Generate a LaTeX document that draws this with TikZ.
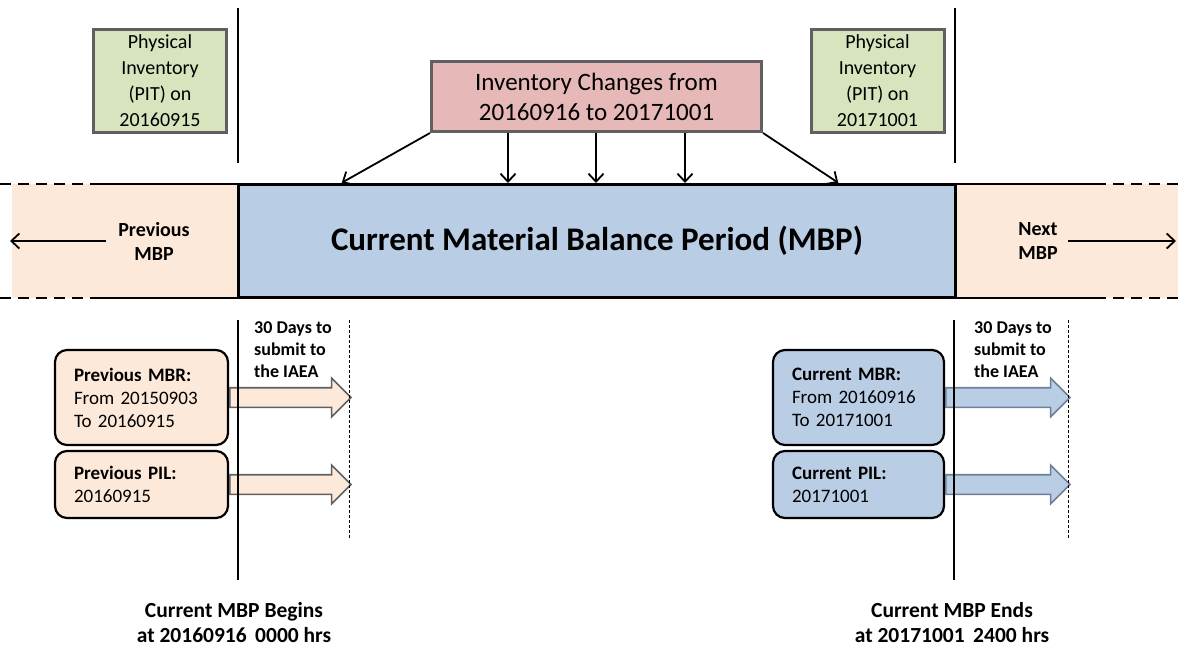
\documentclass[tikz,border=0pt]{standalone}
\usepackage{fontspec}
\setmainfont{Carlito}
\usetikzlibrary{%
  arrows.meta,%
  positioning,%
  shapes.arrows% wg. single arrow
}
\definecolor{pitgreen}{HTML}{D7E4BD}
\definecolor{icred}{HTML}{E6B9B8}
\definecolor{mbpblue}{HTML}{B9CDE5}
\definecolor{mbppeach}{HTML}{FDE9D9}
\definecolor{boxgray}{HTML}{606060}
\definecolor{bluegray}{HTML}{6F7F98}

\begin{document}
\begin{tikzpicture}[
    x=1pt, y=-1pt,
    pit/.style={draw=boxgray, fill=pitgreen, line width=3pt, minimum width=133pt,
      minimum height=103pt, align=center, inner sep=0pt, font=\fontsize{20}{26}\selectfont},
    change/.style={draw=boxgray, fill=icred, line width=3pt, minimum width=330pt,
      minimum height=70pt, align=center, inner sep=0pt, font=\fontsize{25}{30}\selectfont},
    period/.style={draw, fill=mbpblue, line width=3.5pt, minimum width=717pt,
      minimum height=113pt, inner sep=0pt, font=\fontsize{33}{38}\bfseries},
    report/.style={draw, rounded corners=12pt, line width=2.2pt, align=left,
      inner xsep=19pt, inner ysep=0pt, font=\fontsize{19}{23}\selectfont},
    submit/.style={single arrow, single arrow head extend=9.5pt, inner xsep=0pt,
      inner ysep=9pt, line width=1.6pt},
    label/.style={align=center, inner sep=0pt, font=\fontsize{20}{24}\bfseries},
    note/.style={align=left, inner sep=0pt, font=\fontsize{18}{22}\bfseries},
    tip/.style={-{Straight Barb[length=8pt,width=15pt]}, line width=1.8pt},
    timeline/.style={line width=2.2pt},
    band/.style={line width=2.2pt},
    days/.style={line width=0.9pt, dash pattern=on 3pt off 2pt}
  ]
  \useasboundingbox (0,0) rectangle (1178,650);

  % neighbouring periods
  \fill[mbppeach] (12,184) rectangle (238,298);
  \fill[mbppeach] (957,184) rectangle (1178,298);
  \foreach \y in {184,298}{
    \draw[band, dash pattern=on 11pt off 7pt] (0,\y) -- (95,\y);
    \draw[band] (95,\y) -- (238,\y);
    \draw[band] (957,\y) -- (1095,\y);
    \draw[band, dash pattern=on 11pt off 7pt] (1095,\y) -- (1178,\y);}

  % current period
  \node[period] at (597,241) (mbp) {Current Material Balance Period (MBP)};
  \node[label] at (154,241) (prev) {Previous\\MBP};
  \node[label] at (1038,241) (next) {Next\\MBP};
  \coordinate (farleft) at (10,241);
  \coordinate (farright) at (1176,241);
  \draw[tip] ([xshift=-12pt]prev.west) -- (farleft);
  \draw[tip] ([xshift=10pt]next.east) -- (farright);

  % inventories
  \node[pit] at (160,81) (pitold) {Physical\\Inventory\\(PIT) on\\20160915};
  \node[pit] at (877.5,81) (pitnew) {Physical\\Inventory\\(PIT) on\\20171001};
  \node[change] at (596.5,96.5) (ic) {Inventory Changes from\\20160916 to 20171001};

  % inventory changes into the period
  \draw[tip] (ic.south west) -- ([xshift=105pt]mbp.north west);
  \draw[tip] (ic.south east) -- ([xshift=-119pt]mbp.north east);
  \foreach \x in {508,596,685}{
    \coordinate (icx) at (\x,133);
    \coordinate (mbpx) at (\x,183);
    \draw[tip] (icx) -- (mbpx);}

  % reports
  \node[report, fill=mbppeach, text width=135pt, minimum height=95pt] at (141.5,397.5) (pmbr)
    {\textbf{Previous MBR:}\\From 20150903\\To 20160915};
  \node[report, fill=mbppeach, text width=135pt, minimum height=67pt] at (141.5,484.5) (ppil)
    {\textbf{Previous PIL:}\\20160915};
  \node[report, fill=mbpblue, text width=133pt, minimum height=95pt] at (858.5,397.5) (cmbr)
    {\textbf{Current MBR:}\\From 20160916\\To 20171001};
  \node[report, fill=mbpblue, text width=133pt, minimum height=67pt] at (858.5,484.5) (cpil)
    {\textbf{Current PIL:}\\20171001};

  \node[submit, draw=boxgray, fill=mbppeach, minimum height=121pt, anchor=tail] at (pmbr.east) {};
  \node[submit, draw=boxgray, fill=mbppeach, minimum height=121pt, anchor=tail] at (ppil.east) {};
  \node[submit, draw=bluegray, fill=mbpblue, minimum height=124pt, anchor=tail] at (cmbr.east) {};
  \node[submit, draw=bluegray, fill=mbpblue, minimum height=124pt, anchor=tail] at (cpil.east) {};

  % begin and end of the period
  \draw[timeline] (238,8) -- (238,163);
  \draw[timeline] (955,8) -- (955,163);
  \draw[timeline] (238,320) -- (238,580);
  \draw[timeline] (954,320) -- (954,580);
  \draw[days] (349,320) -- (349,538);
  \draw[days] (1068,320) -- (1068,538);

  \node[note, anchor=west] at (254,350) (dold) {30 Days to\\submit to\\the IAEA};
  \node[note, anchor=west] at (974,350) (dnew) {30 Days to\\submit to\\the IAEA};

  \node[label, font=\fontsize{21.5}{25}\bfseries] at (234,623) (begins)
    {Current MBP Begins\\at 20160916\, 0000 hrs};
  \node[label, font=\fontsize{21.5}{25}\bfseries] at (952,623) (ends)
    {Current MBP Ends\\at 20171001\, 2400 hrs};
\end{tikzpicture}
\end{document}
